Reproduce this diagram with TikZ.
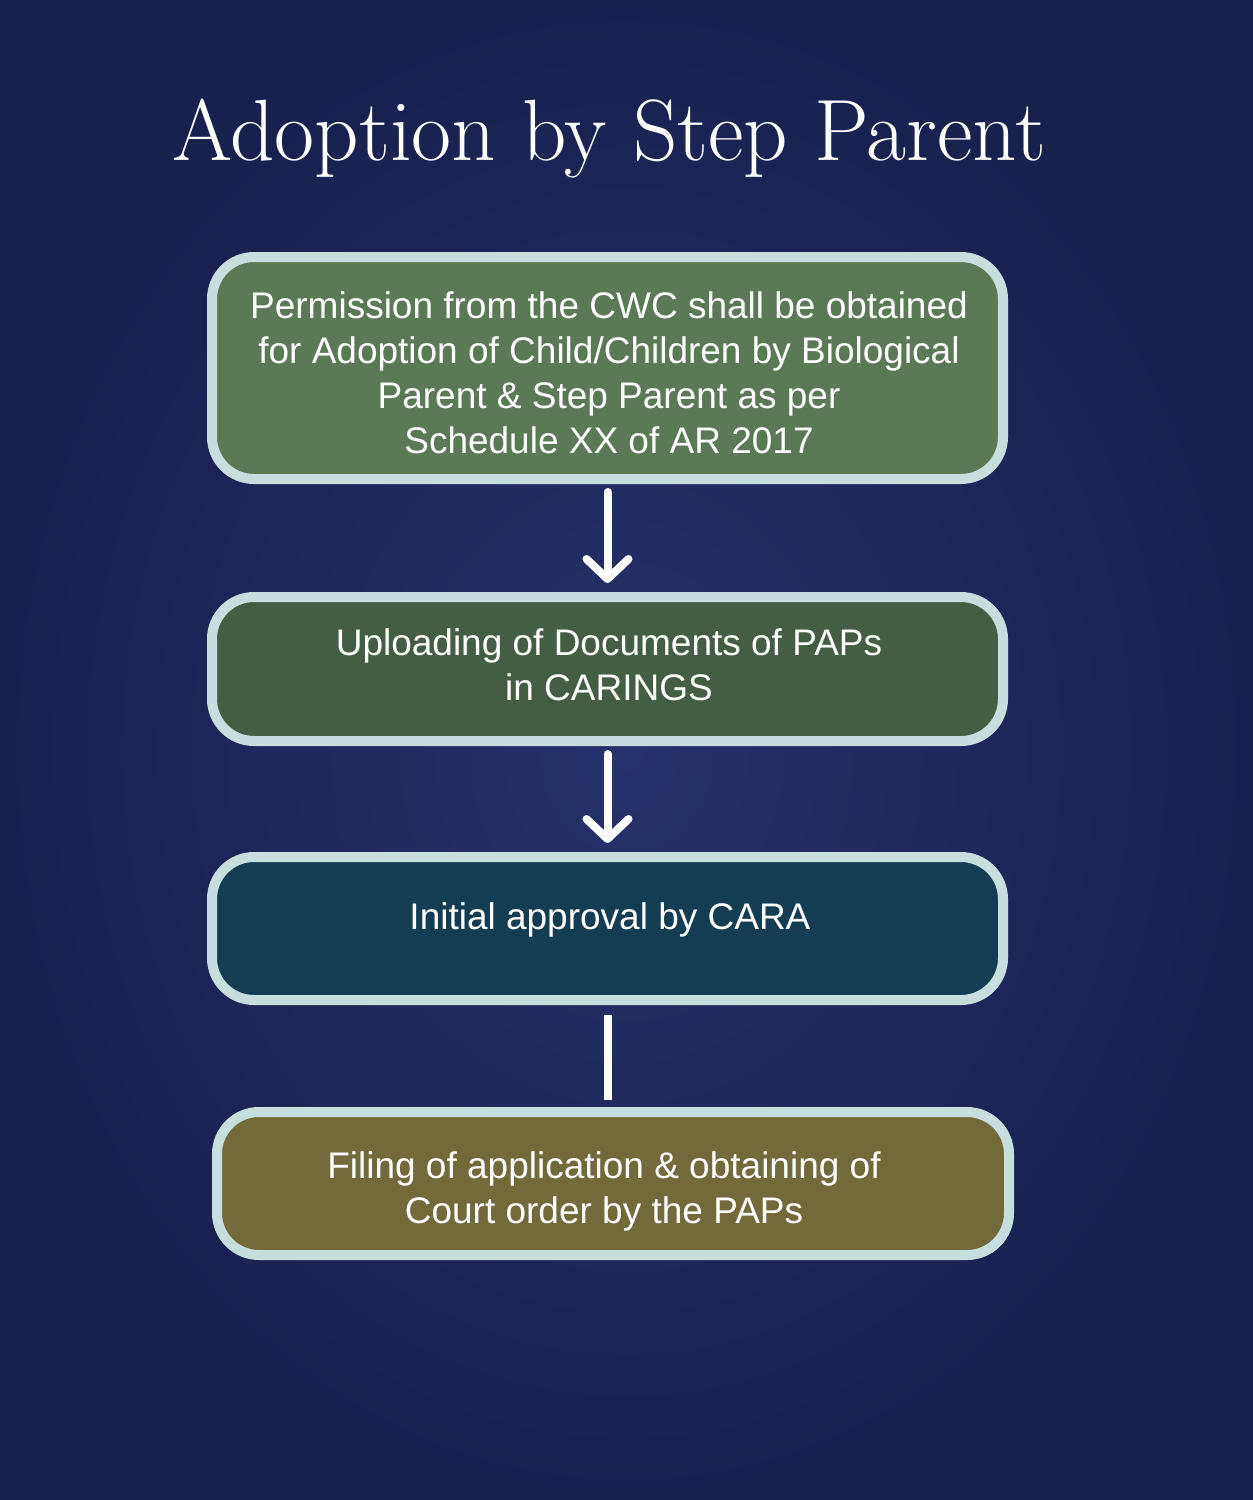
\documentclass[tikz,border=0pt]{standalone}
\usepackage{fontspec}
\newfontfamily\boxfont{Liberation Sans}
\usetikzlibrary{arrows.meta}
\definecolor{bgin}{HTML}{26326C}
\definecolor{bgout}{HTML}{18204E}
\definecolor{rim}{HTML}{C7DEDF}
\definecolor{fillA}{HTML}{5A7A55}
\definecolor{fillB}{HTML}{435E45}
\definecolor{fillC}{HTML}{143C52}
\definecolor{fillD}{HTML}{726A3A}
\tikzset{
  stepbox/.style={draw=rim, line width=10pt, rounded corners=42pt,
    minimum width=791pt, inner sep=0pt},
  steptext/.style={align=center, text=white,
    font=\boxfont\fontsize{37}{45}\selectfont, inner sep=0pt},
  flowarrow/.style={draw=white, line width=8pt, line cap=round,
    -{Straight Barb[length=20pt, width=42pt, line width=8pt, round]}},
  flowline/.style={draw=white, line width=8pt},
}
\begin{document}
\begin{tikzpicture}[x=1pt,y=-1pt]
\shade[inner color=bgin, outer color=bgout] (0,0) rectangle (1253,1500);
\useasboundingbox (0,0) rectangle (1253,1500);
\node[text=white, font=\fontsize{87}{96}\selectfont, anchor=base] (title) at (609,160) {Adoption by Step Parent};
\node[stepbox, fill=fillA, minimum height=222pt] (b1) at (607.5,368) {};
\node[steptext] (t1) at (609,373)
  {Permission from the CWC shall be obtained\\for Adoption of Child/Children by Biological\\Parent \& Step Parent as per\\Schedule XX of AR 2017};
\node[stepbox, fill=fillB, minimum height=144pt] (b2) at (607.5,669) {};
\node[steptext] (t2) at (609,665) {Uploading of Documents of PAPs\\in CARINGS};
\node[stepbox, fill=fillC, minimum height=143pt] (b3) at (607.5,928.5) {};
\node[steptext] (t3) at (610,920) {Initial approval by CARA};
\node[stepbox, fill=fillD, minimum height=143pt, minimum width=792pt] (b4) at (613,1183.5) {};
\node[steptext] (t4) at (604,1191) {Filing of application \& obtaining of\\Court order by the PAPs};
\draw[flowarrow, shorten <=8pt, shorten >=9pt] (b1.south) -- (b2.north);
\draw[flowarrow, shorten <=8pt, shorten >=9pt] (b2.south) -- (b3.north);
\draw[flowline, shorten <=10pt, shorten >=7pt] (b3.south) -- (b3.south |- b4.north);
\end{tikzpicture}
\end{document}
